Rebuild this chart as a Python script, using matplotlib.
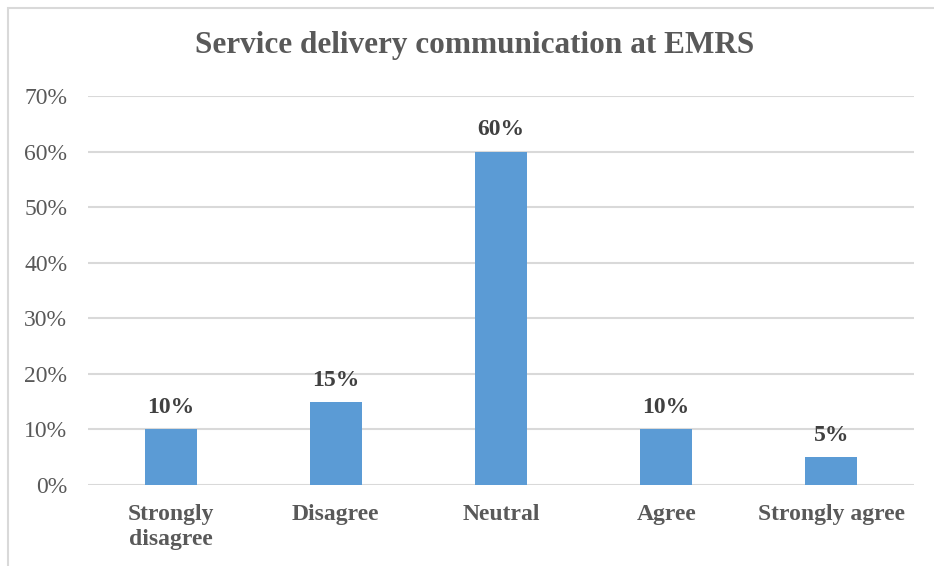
import matplotlib
matplotlib.use("Agg")
import matplotlib.pyplot as plt
from matplotlib.patches import Rectangle
from matplotlib.ticker import PercentFormatter

# responses to the communication question
categories = ["Strongly\ndisagree", "Disagree", "Neutral", "Agree", "Strongly agree"]
shares = [0.10, 0.15, 0.60, 0.10, 0.05]
yticks = [0, 0.1, 0.2, 0.3, 0.4, 0.5, 0.6, 0.7]

plt.rcParams['font.family'] = ['Liberation Serif', 'DejaVu Serif']

fig = plt.figure(figsize=(9.34, 5.66), dpi=100)
ax = fig.add_axes([88 / 934, 1 - 485 / 566, 826 / 934, 389 / 566])

# light frame round the chart area
fig.patches.append(Rectangle((8 / 934, -0.1), 1.0, 1.1 - 8 / 566, transform=fig.transFigure,
                             fill=False, edgecolor='#d9d9d9', lw=1.5))

x = range(len(categories))
ax.bar(x, shares, width=0.315, color='#5b9bd5', zorder=3)
for xi, v in zip(x, shares):
    ax.text(xi, v + 0.02, f"{v:.0%}", ha='center', va='bottom',
            fontsize=17, fontweight='bold', color='#404040')

ax.set_xlim(-0.5, len(categories) - 0.5)
ax.set_ylim(0, 0.7)
ax.set_yticks(yticks)
ax.yaxis.set_major_formatter(PercentFormatter(1.0, decimals=0))
ax.set_xticks(list(x))
ax.set_xticklabels(categories, fontsize=17, fontweight='bold', color='#595959',
                   linespacing=1.25)
ax.tick_params(axis='y', labelsize=17, labelcolor='#595959', length=0, pad=15)
ax.tick_params(axis='x', length=0, pad=14)
for lbl in ax.get_xticklabels():
    lbl.set_verticalalignment('top')

ax.grid(axis='y', color='#d9d9d9', lw=1.5, zorder=0)
for s in ax.spines.values():
    s.set_visible(False)

fig.text(475 / 934, 1 - 45 / 566, "Service delivery communication at EMRS",
         ha='center', va='center', fontsize=22.5, fontweight='bold', color='#595959')

fig.savefig('out.png', dpi=100)
